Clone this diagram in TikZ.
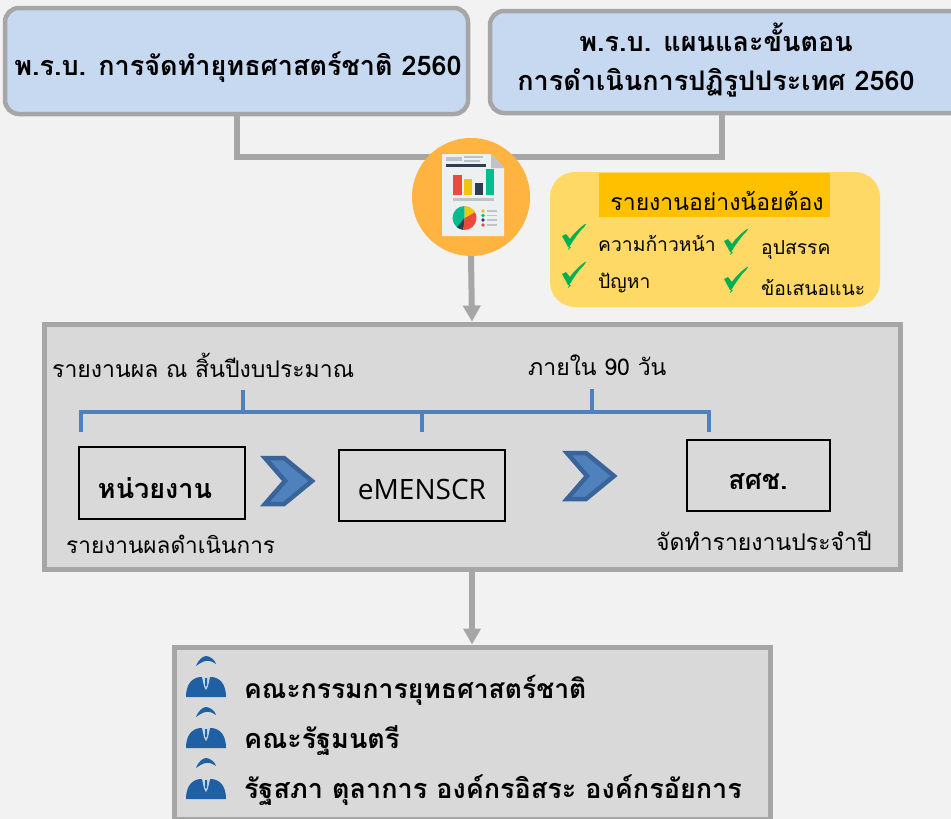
\documentclass[tikz,border=0pt]{standalone}
\usepackage{fontspec}
\newfontfamily\thaifont[Script=Thai]{Loma}
\usetikzlibrary{arrows.meta,calc}
\definecolor{bgc}{HTML}{F2F2F2}
\definecolor{grayl}{HTML}{A6A6A6}
\definecolor{panel}{HTML}{D9D9D9}
\definecolor{topblue}{HTML}{C6D9F1}
\definecolor{brk}{HTML}{4F81BD}
\definecolor{chevb}{HTML}{3A6499}
\definecolor{yel}{HTML}{FFD966}
\definecolor{org}{HTML}{FFC000}
\definecolor{circ}{HTML}{FFB340}
\definecolor{chk}{HTML}{00B050}
\definecolor{icon}{HTML}{1F5FA3}
\definecolor{paper}{HTML}{ECF0F1}
\definecolor{fold}{HTML}{BDC3C7}
\definecolor{dred}{HTML}{E74C3C}
\definecolor{dyel}{HTML}{F1C40F}
\definecolor{ddark}{HTML}{2C3E50}
\definecolor{dgrn}{HTML}{00BC8F}
\tikzset{
 x=1pt,y=-1pt,
 every node/.style={font=\thaifont,inner sep=0pt,text=black},
 topbox/.style={draw=grayl,fill=topblue,line width=4.5pt,rounded corners=14pt},
 panelbox/.style={draw=grayl,fill=panel,line width=5pt},
 stepbox/.style={draw=black,line width=2pt,fill=panel},
 conn/.style={draw=grayl,line width=6pt},
 arr/.style={draw=grayl,line width=6pt,-{Triangle[length=16pt,width=17pt]}},
 brack/.style={draw=brk,line width=3.5pt},
 chev/.style={draw=chevb,fill=brk,line width=4.5pt,miter limit=10},
 big/.style={font=\thaifont\fontsize{27}{30}\selectfont\bfseries},
 lab/.style={font=\thaifont\fontsize{23}{26}\selectfont},
 small/.style={font=\thaifont\fontsize{19.3}{22}\selectfont},
}
\newcommand{\chevron}[2]{%
 \draw[chev] (#1,#2) -- ++(19,0) -- ++(28,23) -- ++(-28,23) -- ++(-19,0) -- ++(20,-23) -- cycle;}
\newcommand{\tick}[2]{%
 \fill[chk] (#1,#2+9) -- ++(4,-2) -- ++(4,5) .. controls +(3,-6) and +(8,-10) .. ++(14,-12) .. controls +(-6,5) and +(-10,12) .. ++(-13,20) -- ++(-3,0) -- cycle;}
\newcommand{\person}[2]{%
 \begin{scope}[shift={(#1,#2)}]
 \fill[icon] (-10,-11) .. controls (-8,-17) and (-3,-21) .. (0,-21) .. controls (4,-21) and (9,-17) .. (10,-13) .. controls (7,-15) and (3,-17) .. (0,-16) .. controls (-3,-16) and (-7,-13) .. (-10,-11) -- cycle;
 \fill[icon] (-20,20) .. controls (-20,7) and (-14,1) .. (-6,0) -- (6,0) .. controls (14,1) and (20,7) .. (20,20) -- cycle;
 \fill[white!75!icon] (-4,0) -- (4,0) -- (2,9) -- (0,13) -- (-2,9) -- cycle;
 \fill[icon] (-1,1) -- (1,1) -- (1,8) -- (0,10) -- (-1,8) -- cycle;
 \end{scope}}
\begin{document}
\begin{tikzpicture}
\path[use as bounding box,fill=bgc] (0,0) rectangle (951,819);
\node[topbox,minimum width=463pt,minimum height=106pt] (law1) at (236.5,61) {};
\node[topbox,minimum width=480pt,minimum height=102pt] (law2) at (730,62) {};
\node[panelbox,minimum width=856pt,minimum height=245pt] (proc) at (472,446.5) {};
\node[panelbox,minimum width=596pt,minimum height=172pt] (recv) at (472,733) {};
\coordinate (j1) at (237,157);
\coordinate (j2) at (722,157);
\draw[conn] (law1.south -| j1) -- (j1) -- (j2) -- (law2.south -| j2);
\node[circle,fill=circ,minimum size=118pt] (report) at (471,197) {};
\draw[arr] (report.south) -- (proc.north);
\draw[arr] (proc.south) -- (recv.north);
\node[big] at (238,67) {พ.ร.บ. การจัดทำยุทธศาสตร์ชาติ 2560};
\node[big] at (716,37) {พ.ร.บ. แผนและขั้นตอน};
\node[big] at (716,83) {การดำเนินการปฏิรูปประเทศ 2560};
% document icon
\fill[paper] (442,154) -- (491,154) -- (504,168) -- (504,236) -- (442,236) -- cycle;
\fill[fold] (491,154) -- (504,168) -- (491,168) -- cycle;
\fill[fold] (446,157) rectangle (462,161);
\fill[fold] (464,156) rectangle (483,158);
\fill[fold] (464,160) rectangle (480,162);
\fill[ddark] (446,164) rectangle (486,167);
\fill[dred] (453,175) rectangle (462,195);
\fill[dyel] (463.5,179) rectangle (472,195);
\fill[ddark] (475,183) rectangle (483,195);
\fill[dgrn] (486,169) rectangle (494,195);
\fill[fold] (453,198) rectangle (494,200.5);
\begin{scope}[shift={(464.5,218)},y=1pt]
 \fill[dgrn] (0,0) -- (90:12) arc[start angle=90,end angle=230,radius=12] -- cycle;
 \fill[ddark] (0,0) -- (230:12) arc[start angle=230,end angle=265,radius=12] -- cycle;
 \fill[dred] (0,0) -- (265:12) arc[start angle=265,end angle=390,radius=12] -- cycle;
 \fill[dyel] (0,0) -- (30:12) arc[start angle=30,end angle=90,radius=12] -- cycle;
\end{scope}
\foreach \y/\c in {211/dyel,215.5/dgrn,220/ddark,225/dred}{
 \fill[\c] (483,\y) circle (1.8);
 \fill[fold] (487,\y-0.6) rectangle (497,\y+0.6);}
% yellow box
\node[fill=yel,rounded corners=25pt,minimum width=330pt,minimum height=135pt] (must) at (715,239.5) {};
\node[fill=org,minimum width=231pt,minimum height=44pt] (musttitle) at (714.5,195) {};
\node[lab] at (717,201) {รายงานอย่างน้อยต้อง};
\tick{562}{227}\tick{724}{232}\tick{562}{265}\tick{724}{270}
\node[small,anchor=west] at (598,243) {ความก้าวหน้า};
\node[small,anchor=west] at (761,250) {อุปสรรค};
\node[small,anchor=west] at (598,283) {ปัญหา};
\node[small,anchor=west] at (761,287) {ข้อเสนอแนะ};
% process
\node[lab,anchor=west] at (52,365) {รายงานผล ณ สิ้นปีงบประมาณ};
\node[lab,anchor=west] at (528,365) {ภายใน 90 วัน};
\node[stepbox,minimum width=166pt,minimum height=72pt] (agency) at (162,483) {};
\node[stepbox,minimum width=166pt,minimum height=71pt] (emen) at (422,485.5) {};
\node[stepbox,minimum width=143pt,minimum height=71pt] (nesdc) at (758.5,475.5) {};
\node[big] at (155,488) {หน่วยงาน};
\node[font=\fontspec{Open Sans}\fontsize{28}{30}\selectfont] at (422,489) {eMENSCR};
\node[big] at (758,481) {สศช.};
\coordinate (bL) at (81,412);
\coordinate (bR) at (709,412);
\draw[brack] (agency.north -| bL) ++(0,-14) -- (bL) -- (bR) -- ($(nesdc.north -| bR)+(0,-7)$);
\draw[brack] (243,412) -- (243,390);
\draw[brack] (592,412) -- (592,389);
\draw[brack] (emen.north) ++(0,-38) -- ++(0,21);
\chevron{265}{458}
\chevron{567}{453}
\node[font=\thaifont\fontsize{22.6}{26}\selectfont,anchor=west] at (66,544) {รายงานผลดำเนินการ};
\node[lab,anchor=west] at (656,541) {จัดทำรายงานประจำปี};
% receivers
\person{206}{677}
\person{206}{728}
\person{206}{779}
\node[font=\thaifont\fontsize{26.5}{30}\selectfont\bfseries,anchor=west] at (244,690) {คณะกรรมการยุทธศาสตร์ชาติ};
\node[big,anchor=west] at (244,741) {คณะรัฐมนตรี};
\node[big,anchor=west] at (244,790) {รัฐสภา ตุลาการ องค์กรอิสระ องค์กรอัยการ};
\end{tikzpicture}
\end{document}
